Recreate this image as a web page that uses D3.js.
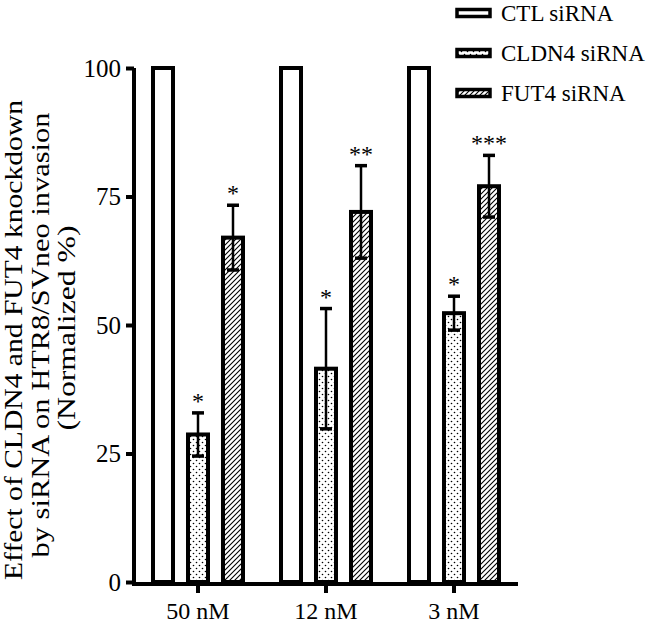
<!DOCTYPE html>
<html>
<head>
<meta charset="utf-8">
<script src="https://cdn.jsdelivr.net/npm/d3@7"></script>
<style>
  html, body { margin: 0; padding: 0; background: #fff; }
  svg { display: block; }
</style>
</head>
<body>
<svg id="chart" width="648" height="625"></svg>
<script>
// ---- data ----
const categories = ["50 nM", "12 nM", "3 nM"];
const series = ["CTL siRNA", "CLDN4 siRNA", "FUT4 siRNA"];
const ctlValues = [100, 100, 100];
const cldn4Values = [28.7, 41.5, 52.3];
const cldn4Errors = [4.2, 11.7, 3.3];
const fut4Values = [67, 72, 77];
const fut4Errors = [6.3, 9, 6];
const cldn4Stars = ["*", "*", "*"];
const fut4Stars = ["*", "**", "***"];
const yTicks = [0, 25, 50, 75, 100];
const yTitle = ["Effect of CLDN4 and FUT4 knockdown", "by siRNA on HTR8/SVneo invasion", "(Normalized %)"];

const FONT = "'Liberation Serif', 'Times New Roman', Times, serif";
const svg = d3.select("#chart");
const plotLeft = 134, plotRight = 518, plotTop = 68, plotBottom = 582;

const y = d3.scaleLinear().domain([0, 100]).range([plotBottom, plotTop]);
const x0 = d3.scaleBand().domain(categories).range([plotLeft, plotRight]).padding(0);
const x1 = d3.scalePoint().domain(series).range([x0.bandwidth() / 2 - 35, x0.bandwidth() / 2 + 35]);
const barW = 20;

// patterns
const defs = svg.append("defs");
const dots = defs.append("pattern").attr("id", "dots").attr("patternUnits", "userSpaceOnUse")
  .attr("width", 6).attr("height", 6);
dots.append("rect").attr("width", 6).attr("height", 6).attr("fill", "#fff");
dots.append("circle").attr("cx", 1.5).attr("cy", 1.5).attr("r", 0.8).attr("fill", "#000");
dots.append("circle").attr("cx", 4.5).attr("cy", 4.5).attr("r", 0.8).attr("fill", "#000");

const hatch = defs.append("pattern").attr("id", "hatch").attr("patternUnits", "userSpaceOnUse")
  .attr("width", 5).attr("height", 5);
hatch.append("rect").attr("width", 5).attr("height", 5).attr("fill", "#fff");
hatch.append("path").attr("d", "M-1,1 l2,-2 M0,5 l5,-5 M4,6 l2,-2")
  .attr("stroke", "#000").attr("stroke-width", 1.1);

const fills = { "CTL siRNA": "#fff", "CLDN4 siRNA": "url(#dots)", "FUT4 siRNA": "url(#hatch)" };

// build rows
const rows = [];
categories.forEach((c, i) => {
  rows.push({ cat: c, s: series[0], v: ctlValues[i], e: null, star: null });
  rows.push({ cat: c, s: series[1], v: cldn4Values[i], e: cldn4Errors[i], star: cldn4Stars[i] });
  rows.push({ cat: c, s: series[2], v: fut4Values[i], e: fut4Errors[i], star: fut4Stars[i] });
});

const cx = d => x0(d.cat) + x1(d.s);

// bars
svg.append("g").selectAll("rect").data(rows).join("rect")
  .attr("x", d => cx(d) - barW / 2)
  .attr("y", d => y(d.v))
  .attr("width", barW)
  .attr("height", d => y(0) - y(d.v))
  .attr("fill", d => fills[d.s])
  .attr("stroke", "#000").attr("stroke-width", 4)
  .attr("stroke-linejoin", "miter");

// error bars
const eb = svg.append("g").selectAll("g").data(rows.filter(d => d.e != null)).join("g");
eb.append("line")
  .attr("x1", cx).attr("x2", cx)
  .attr("y1", d => y(d.v + d.e)).attr("y2", d => y(d.v - d.e))
  .attr("stroke", "#000").attr("stroke-width", 2.5);
eb.append("line")
  .attr("x1", d => cx(d) - 6).attr("x2", d => cx(d) + 6)
  .attr("y1", d => y(d.v + d.e)).attr("y2", d => y(d.v + d.e))
  .attr("stroke", "#000").attr("stroke-width", 3.5);
eb.append("line")
  .attr("x1", d => cx(d) - 6).attr("x2", d => cx(d) + 6)
  .attr("y1", d => y(d.v - d.e)).attr("y2", d => y(d.v - d.e))
  .attr("stroke", "#000").attr("stroke-width", 3.5);
eb.append("text")
  .attr("x", cx)
  .attr("y", d => y(d.v + d.e) - 4)
  .attr("text-anchor", "middle")
  .attr("fill", "#000")
  .style("font-family", FONT)
  .style("font-size", "24px")
  .text(d => d.star);

// y axis
const yAxis = svg.append("g").attr("transform", `translate(${plotLeft},0)`)
  .call(d3.axisLeft(y).tickValues(yTicks).tickSize(8).tickPadding(5).tickFormat(d3.format("d")));
yAxis.select(".domain").attr("stroke-width", 4).attr("d", `M0,${y(0) + 2}V${y(100)}`);
yAxis.selectAll(".tick line").attr("stroke-width", 4);
yAxis.selectAll(".tick text").style("font-family", FONT).style("font-size", "25px").attr("dy", "0.33em");

// x axis
const xAxis = svg.append("g").attr("transform", `translate(0,${y(0) + 2})`)
  .call(d3.axisBottom(x0).tickSize(9).tickPadding(9));
xAxis.select(".domain").attr("stroke-width", 4).attr("d", `M${plotLeft - 2},0H${plotRight}`);
xAxis.selectAll(".tick line").attr("stroke-width", 4);
xAxis.selectAll(".tick text").style("font-family", FONT).style("font-size", "24px");

// y title
const titleCenters = [340, 335, 328];
const titleLengths = [480, 445, 205];
const titleBase = [22, 49, 75];
yTitle.forEach((t, i) => {
  svg.append("text")
    .attr("transform", `translate(${titleBase[i]},${titleCenters[i]}) rotate(-90)`)
    .attr("text-anchor", "middle")
    .attr("x", 0).attr("y", 0)
    .attr("textLength", titleLengths[i])
    .attr("lengthAdjust", "spacingAndGlyphs")
    .attr("fill", "#000")
    .style("font-family", FONT)
    .style("font-size", "26px")
    .text(t);
});

// legend
const leg = svg.append("g").selectAll("g").data(series).join("g")
  .attr("transform", (d, i) => `translate(457,${13 + i * 40})`);
leg.append("rect")
  .attr("x", 0).attr("y", -3.5).attr("width", 33).attr("height", 7)
  .attr("fill", d => fills[d]).attr("stroke", "#000").attr("stroke-width", 3.5);
leg.append("text")
  .attr("x", 44).attr("y", 0).attr("dy", "0.33em")
  .attr("fill", "#000")
  .style("font-family", FONT)
  .style("font-size", "23px")
  .text(d => d);
</script>
</body>
</html>
